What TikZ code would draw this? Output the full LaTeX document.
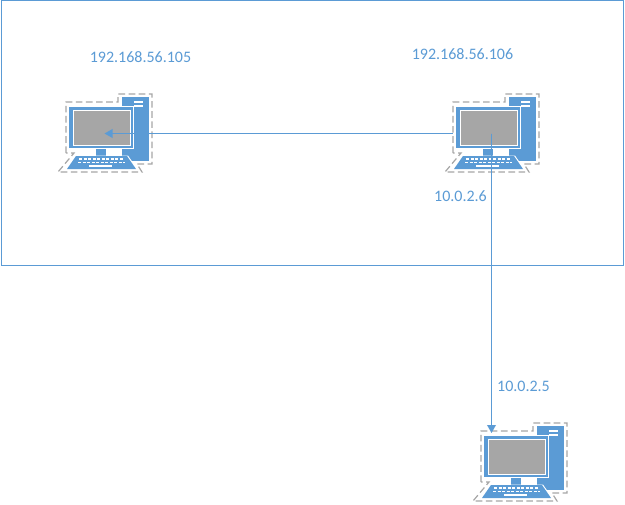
\documentclass[tikz,border=0pt]{standalone}
\usepackage{fontspec}
\setmainfont{Carlito}
\usetikzlibrary{arrows.meta}
\definecolor{blueA}{HTML}{5B9BD5}
\definecolor{dashC}{HTML}{A6A6A6}
\tikzset{
  x=0.75pt,y=-0.75pt,
  lab/.style={text=blueA,font=\fontsize{12pt}{14pt}\selectfont,inner sep=0pt},
  conn/.style={draw=blueA,fill=blueA,line width=1pt},
  connarrow/.style={conn,-{Triangle[length=6pt,width=6.5pt]}},
  anchorbox/.style={inner sep=0pt,outer sep=0pt,minimum width=58.5pt,minimum height=44.25pt},
  dashout/.style={draw=dashC,line width=0.9pt,dash pattern=on 5pt off 2.6pt},
}
\newcommand{\computer}[3]{%
\begin{scope}[shift={(#2,#3)}]
  \fill[blueA] (122,97) rectangle (149,161);
  \draw[white,line width=1.1pt] (134,102) -- (143,102) (134,106) -- (143,106);
  \draw[dashout] (66,153) -- (66,102) -- (118,102) -- (118,94) -- (152,94) -- (152,164) -- (137,164) -- (142,172) -- (58,172) -- (74,153) -- cycle;
  \fill[white] (116,148) rectangle (122,156);
  \filldraw[fill=blueA,draw=white,line width=0.75pt] (68.5,106.5) rectangle (133.5,148.5);
  \filldraw[fill=dashC,draw=white,line width=0.75pt] (73,110) rectangle (130,145);
  \fill[blueA] (96,148.8) rectangle (106,156);
  \fill[white] (65,170) -- (75,155.5) -- (128,155.5) -- (138,170) -- cycle;
  \fill[blueA] (67,169) -- (76,156) -- (127,156) -- (136,169) -- cycle;
  \draw[white,line width=0.9pt,dash pattern=on 2.4pt off 1pt] (79,159) -- (124,159) (78,162.4) -- (125,162.4);
  \draw[white,line width=1.2pt] (89,166) -- (112,166);
  \node[anchorbox] (#1) at (104.5,133.5) {};
\end{scope}}
\begin{document}
\begin{tikzpicture}
  \useasboundingbox (0,0) rectangle (625,504);
  \fill[white] (0,0) rectangle (625,504);
  \begin{scope}
    \clip (0,0) rectangle (625,504);
    \draw[blueA,line width=1pt] (1.5,0.6) rectangle (623.5,265.5);
    \computer{pcA}{0}{0}
    \computer{pcB}{387}{0}
    \computer{pcC}{415}{329}
  \end{scope}
  \node[lab] (ipA) at (140.5,57) {192.168.56.105};
  \node[lab] (ipB) at (462.5,54) {192.168.56.106};
  \node[lab] (ipD) at (460.5,196) {10.0.2.6};
  \node[lab] (ipE) at (523.5,386) {10.0.2.5};
  \draw[connarrow] (pcB.west) -- (pcA.center);
  \draw[connarrow] (pcB.center) -- (pcB.center |- pcC.north);
\end{tikzpicture}
\end{document}
